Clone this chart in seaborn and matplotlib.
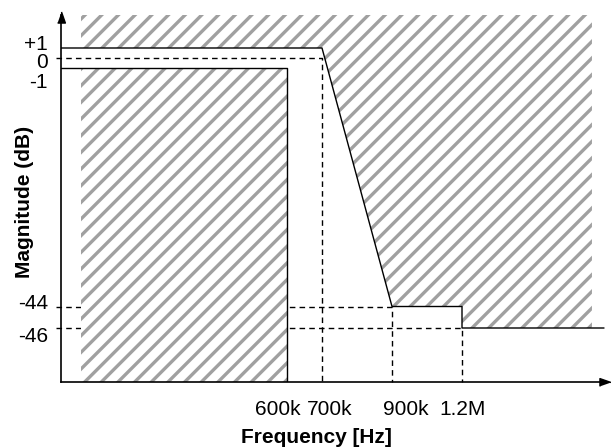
import numpy as np
import pandas as pd
import matplotlib
matplotlib.use("Agg")
import matplotlib.pyplot as plt
import seaborn as sns
from matplotlib.transforms import ScaledTranslation

# ---------------- data (frequency in kHz, magnitude in dB) ----------------
freq_ticks = [600, 700, 900, 1200]
freq_tick_labels = ["600k", "700k", "900k", "1.2M"]
mag_ticks = [1, 0, -1, -44, -46]
mag_tick_labels = ["+1", "0", "-1", "-44", "-46"]

pass_edge = 600          # passband edge
trans_start = 700        # nominal edge
stop1_edge = 900
stop2_edge = 1200
stop_end = 1600
ripple_hi = 1
ripple_lo = -1
stop1_level = -44
stop2_level = -46

# upper mask (maximum response)
upper_f = [trans_start, stop1_edge, stop2_edge, stop2_edge, stop_end]
upper_db = [ripple_hi, stop1_level, stop1_level, stop2_level, stop2_level]

# ---------------- schematic (broken) axis mapping ----------------
F_KNOTS = [-300, 0, 600, 700, 900, 1200, 1600, 2000]
U_KNOTS = [-80, 20, 226, 261, 331, 401, 543, 685]
DB_KNOTS = [-200, -60, -46, -44, -1, 0, 1, 20]
V_KNOTS = [-540, 0, 54, 75.5, 313.5, 324, 334, 524]

def fx(f):
    return np.interp(f, F_KNOTS, U_KNOTS)
def fx_inv(u):
    return np.interp(u, U_KNOTS, F_KNOTS)
def fy(d):
    return np.interp(d, DB_KNOTS, V_KNOTS)
def fy_inv(v):
    return np.interp(v, V_KNOTS, DB_KNOTS)

X_LEFT, X_RIGHT = -60, 1602.8
Y_BOT, Y_TOP = -60, 4.3
X_EXT = -75        # dashed guides poke out left of the axis
HATCH_START = 0
HATCH_END = 1566

sns.set_theme(style="white")
plt.rcParams["font.family"] = ["Liberation Sans", "DejaVu Sans"]
plt.rcParams["hatch.linewidth"] = 2.4

W, H = 611, 448
fig = plt.figure(figsize=(W / 100, H / 100), dpi=100)
ax = fig.add_axes([61 / W, (H - 382) / H, 544 / W, 367 / H])
ax.set_xscale("function", functions=(fx, fx_inv))
ax.set_yscale("function", functions=(fy, fy_inv))
ax.set_xlim(X_LEFT, X_RIGHT)
ax.set_ylim(Y_BOT, Y_TOP)

hatch_col = "#a0a0a0"
dash = dict(color="black", lw=1.0, ls=(0, (4, 3)), zorder=1, clip_on=False)

# dashed guide lines
ax.plot([X_EXT, trans_start, trans_start], [0, 0, Y_BOT], **dash)
ax.plot([X_EXT, stop1_edge, stop1_edge], [stop1_level, stop1_level, Y_BOT], **dash)
ax.plot([X_EXT, stop2_edge, stop2_edge], [stop2_level, stop2_level, Y_BOT], **dash)

# hatched forbidden regions
hx = [HATCH_START] + upper_f[:-1] + [HATCH_END]
hy = [ripple_hi] + upper_db
ax.fill_between(hx, hy, Y_TOP, facecolor="white", edgecolor=hatch_col,
                hatch="//", linewidth=0, zorder=2)
ax.fill_between([HATCH_START, pass_edge], Y_BOT, ripple_lo, facecolor="white",
                edgecolor=hatch_col, hatch="//", linewidth=0, zorder=2)

# solid mask lines
up = pd.DataFrame({"f": [X_LEFT] + upper_f, "db": [ripple_hi] + upper_db})
lo = pd.DataFrame({"f": [X_LEFT, pass_edge, pass_edge],
                   "db": [ripple_lo, ripple_lo, Y_BOT]})
sns.lineplot(data=up, x="f", y="db", sort=False, estimator=None,
             color="black", lw=1.0, ax=ax, zorder=3)
sns.lineplot(data=lo, x="f", y="db", sort=False, estimator=None,
             color="black", lw=1.0, ax=ax, zorder=3)

# spines and arrows
for s in ["top", "right"]:
    ax.spines[s].set_visible(False)
for s in ["left", "bottom"]:
    ax.spines[s].set_color("black")
    ax.spines[s].set_linewidth(1.2)
    ax.spines[s].set_zorder(4)
up_arrow = [(-0.35, -0.5), (0.35, -0.5), (0, 0.5)]
right_arrow = [(-0.5, -0.35), (-0.5, 0.35), (0.5, 0)]
ax.plot([0], [1], marker=up_arrow, ms=8, color="black", clip_on=False,
        transform=ax.transAxes + ScaledTranslation(0, -2.5 / 100, fig.dpi_scale_trans), zorder=5)
ax.plot([1], [0], marker=right_arrow, ms=8, color="black", clip_on=False,
        transform=ax.transAxes, zorder=5)

# ticks
FS = 15
ax.set_xticks(freq_ticks)
ax.set_xticklabels(freq_tick_labels)
ax.set_yticks(mag_ticks)
ax.set_yticklabels(mag_tick_labels)
ax.minorticks_off()
ax.tick_params(axis="x", length=0, pad=13, labelsize=FS, colors="black")
ax.tick_params(axis="y", length=0, pad=9.5, labelsize=FS, colors="black")

x_shift_px = [-9, 7.5, 13.5, 1]
for tick, dx in zip(ax.xaxis.get_major_ticks(), x_shift_px):
    tick.label1.set_transform(tick.label1.get_transform()
                              + ScaledTranslation(dx / 100, 0, fig.dpi_scale_trans))
y_shift_px = [-3.5, 5, 13.5, -3, 9]
for tick, dy in zip(ax.yaxis.get_major_ticks(), y_shift_px):
    tick.label1.set_verticalalignment("center")
    tick.label1.set_transform(tick.label1.get_transform()
                              + ScaledTranslation(0, -dy / 100, fig.dpi_scale_trans))

ax.set_xlabel("Frequency [Hz]", fontsize=FS, fontweight="bold", color="black")
ax.set_ylabel("Magnitude (dB)", fontsize=FS, fontweight="bold", color="black")
ax.xaxis.set_label_coords((316 - 61) / 544, -(428 - 382) / 367)
ax.yaxis.set_label_coords((34 - 61) / 544, (382 - 201.5) / 367)
ax.grid(False)

fig.savefig("out.png", dpi=100)
